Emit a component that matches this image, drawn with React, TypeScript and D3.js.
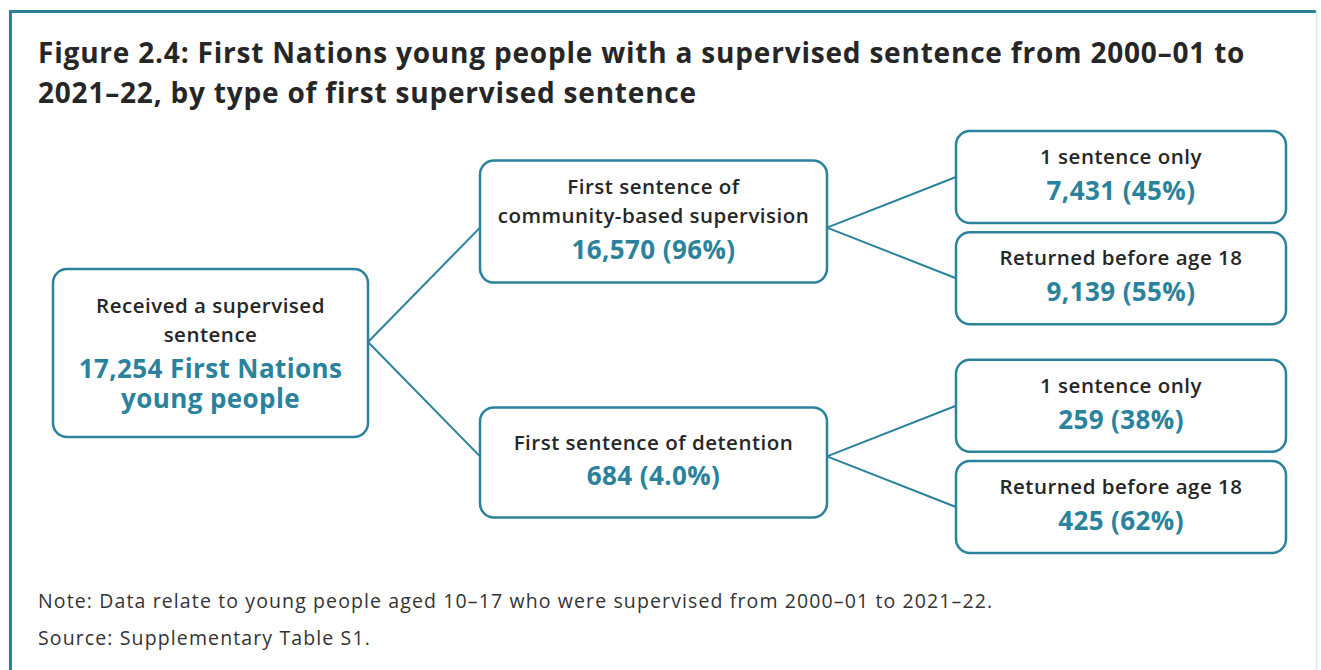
import * as d3 from "d3";
import { useEffect, useRef } from "react";

// chart text and values
const titleLines = [
  "Figure 2.4: First Nations young people with a supervised sentence from 2000–01 to",
  "2021–22, by type of first supervised sentence",
];
const nodeIds = ["all", "community", "detention", "c1", "cR", "d1", "dR"];
const nodeParents = ["", "all", "all", "community", "community", "detention", "detention"];
const nodeLabels = [
  ["Received a supervised", "sentence"],
  ["First sentence of", "community-based supervision"],
  ["First sentence of detention"],
  ["1 sentence only"],
  ["Returned before age 18"],
  ["1 sentence only"],
  ["Returned before age 18"],
];
const nodeCounts = [17254, 16570, 684, 7431, 9139, 259, 425];
const nodePercents = ["", "96%", "4.0%", "45%", "55%", "38%", "62%"];
const rootSuffix = ["First Nations", "young people"];
const footnotes = [
  "Note: Data relate to young people aged 10–17 who were supervised from 2000–01 to 2021–22.",
  "Source: Supplementary Table S1.",
];

const W = 1321;
const H = 670;
const TEAL = "#2a829c";
const INK = "#262626";
const FONT = "'Open Sans', 'Noto Sans', sans-serif";

// column layout per depth
const colLeft = [53, 480, 956];
const colWidth = [315, 347, 330];
const boxHeight = [168, 0, 92];
const boxShift = [11, 0, 0];

export default function App() {
  const ref = useRef<SVGSVGElement>(null);

  useEffect(() => {
    const svg = d3.select(ref.current);
    svg.selectAll("*").remove();

    const rows = nodeIds.map((id, i) => ({
      id,
      parent: nodeParents[i] || null,
      labels: nodeLabels[i],
      values:
        i === 0
          ? [`${d3.format(",")(nodeCounts[i])} ${rootSuffix[0]}`, rootSuffix[1]]
          : [`${d3.format(",")(nodeCounts[i])} (${nodePercents[i]})`],
    }));

    const root = d3
      .stratify<any>()
      .id((d) => d.id)
      .parentId((d) => d.parent)(rows);

    d3
      .tree<any>()
      .nodeSize([1, 1])
      .separation((a, b) => (a.parent === b.parent ? 1 : 1.26))(root);

    const leaves = root.leaves();
    const y = d3
      .scaleLinear()
      .domain([leaves[0].x!, leaves[leaves.length - 1].x!])
      .range([177, 507]);

    // frame
    svg
      .append("path")
      .attr("d", `M10.5,${H + 5} V11.5 H1316`)
      .attr("fill", "none")
      .attr("stroke", TEAL)
      .attr("stroke-width", 3);
    svg
      .append("line")
      .attr("x1", 1316.5)
      .attr("x2", 1316.5)
      .attr("y1", 11)
      .attr("y2", H)
      .attr("stroke", "#d6e6eb")
      .attr("stroke-width", 1.5);

    // title
    svg
      .append("g")
      .selectAll("text")
      .data(titleLines)
      .join("text")
      .attr("x", 38)
      .attr("y", (_, i) => 63 + i * 40)
      .attr("font-family", FONT)
      .attr("font-weight", 700)
      .attr("font-size", 28)
      .attr("letter-spacing", 0.8)
      .attr("fill", INK)
      .text((d) => d);

    const lineH = 29;
    const gapLV = 34;
    const valH = 30;
    const boxH = (d: any) => boxHeight[d.depth] || 98 + 12 * d.data.labels.length;
    const boxDy = (d: any) =>
      boxShift[d.depth] + (d.depth === 1 ? (1.5 - d.data.labels.length) * 12 : 0);

    // links
    svg
      .append("g")
      .selectAll("line")
      .data(root.links())
      .join("line")
      .attr("x1", (d) => colLeft[d.source.depth] + colWidth[d.source.depth])
      .attr("y1", (d) => y(d.source.x!))
      .attr("x2", (d) => colLeft[d.target.depth])
      .attr("y2", (d) => y(d.target.x!))
      .attr("stroke", TEAL)
      .attr("stroke-width", 2);

    const node = svg
      .append("g")
      .selectAll("g")
      .data(root.descendants())
      .join("g")
      .attr(
        "transform",
        (d) => `translate(${colLeft[d.depth] + colWidth[d.depth] / 2},${y(d.x!) + boxDy(d)})`
      );

    node
      .append("rect")
      .attr("x", (d) => -colWidth[d.depth] / 2)
      .attr("y", (d) => -boxH(d) / 2)
      .attr("width", (d) => colWidth[d.depth])
      .attr("height", (d) => boxH(d))
      .attr("rx", 14)
      .attr("fill", "#fff")
      .attr("stroke", TEAL)
      .attr("stroke-width", 2.5);

    node.each(function (d: any) {
      const g = d3.select(this);
      const labels: string[] = d.data.labels;
      const values: string[] = d.data.values;
      const span = (labels.length - 1) * lineH + gapLV + (values.length - 1) * valH;
      const top = -span / 2 - (d.depth === 0 ? 1 : 3);
      const lab = g
        .append("text")
        .attr("text-anchor", "middle")
        .attr("font-family", FONT)
        .attr("font-weight", 600)
        .attr("font-size", 20.5)
        .attr("letter-spacing", 0.5)
        .attr("fill", INK);
      labels.forEach((t, i) => {
        lab.append("tspan").attr("x", 0).attr("y", top + i * lineH).attr("dy", "0.35em").text(t);
      });
      const val = g
        .append("text")
        .attr("text-anchor", "middle")
        .attr("font-family", FONT)
        .attr("font-weight", 700)
        .attr("font-size", 26)
        .attr("letter-spacing", 0.4)
        .attr("fill", TEAL);
      values.forEach((t, i) => {
        val
          .append("tspan")
          .attr("x", 0)
          .attr("y", top + (labels.length - 1) * lineH + gapLV + i * valH)
          .attr("dy", "0.35em")
          .text(t);
      });
    });

    // footnotes
    svg
      .append("g")
      .selectAll("text")
      .data(footnotes)
      .join("text")
      .attr("x", 38)
      .attr("y", (_, i) => 608 + i * 37)
      .attr("font-family", FONT)
      .attr("font-size", 19.5)
      .attr("letter-spacing", 1.12)
      .attr("fill", "#333")
      .text((d) => d);
  }, []);

  return (
    <svg
      ref={ref}
      width={W}
      height={H}
      style={{ position: "absolute", left: 0, top: 0, background: "#fff" }}
    />
  );
}
